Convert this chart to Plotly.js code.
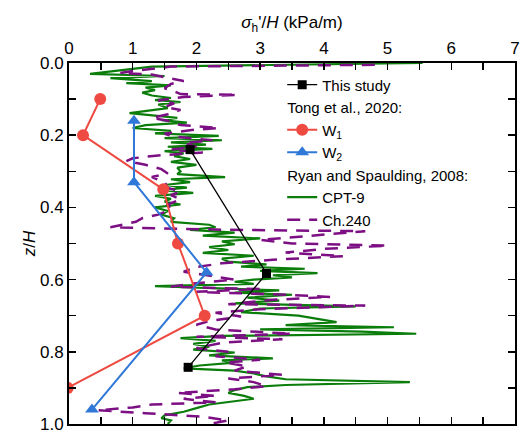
<!DOCTYPE html>
<html>
<head>
<meta charset="utf-8">
<script src="https://cdn.plot.ly/plotly-3.0.1.min.js"></script>
<style>html,body{margin:0;padding:0;background:#fff;}#chart{width:521px;height:434px;}</style>
</head>
<body>
<div id="chart"></div>
<script>
// This study
const thisX = [1.9, 3.1, 1.87];
const thisY = [0.24, 0.583, 0.843];
// Tong et al., 2020
const w1X = [0.49, 0.22, 1.48, 1.71, 2.13, -0.02];
const w1Y = [0.10, 0.20, 0.35, 0.50, 0.70, 0.90];
const w2X = [1.02, 1.02, 2.16, 0.36];
const w2Y = [0.16, 0.33, 0.58, 0.96];
// Ryan and Spaulding, 2008 - CPT-9
const cptY = [0.000,0.006,0.010,0.030,0.036,0.042,0.050,0.056,0.062,0.068,0.075,0.082,0.090,0.097,0.103,0.108,0.115,0.125,0.132,0.139,0.146,0.152,0.158,0.165,0.172,0.180,0.188,0.195,0.202,0.208,0.214,0.220,0.226,0.232,0.238,0.244,0.250,0.258,0.266,0.274,0.282,0.290,0.300,0.308,0.316,0.322,0.330,0.338,0.345,0.352,0.360,0.368,0.376,0.384,0.392,0.400,0.410,0.420,0.430,0.440,0.448,0.455,0.462,0.470,0.478,0.486,0.494,0.502,0.510,0.518,0.526,0.534,0.542,0.550,0.558,0.564,0.570,0.576,0.582,0.588,0.594,0.600,0.606,0.612,0.618,0.624,0.630,0.636,0.642,0.650,0.658,0.666,0.674,0.680,0.690,0.700,0.710,0.718,0.726,0.732,0.738,0.744,0.750,0.756,0.762,0.770,0.778,0.786,0.794,0.802,0.810,0.818,0.824,0.830,0.838,0.846,0.852,0.860,0.868,0.876,0.884,0.892,0.898,0.906,0.914,0.922,0.930,0.938,0.946,0.956,0.966,0.976,0.984,0.990,1.000];
const cptX = [5.55,2.5,1.3,0.33,1.5,0.65,1.3,0.9,1.6,1.2,1.35,1.15,1.3,1.6,1.35,1.75,1.4,1.55,1.2,0.95,1.35,1.7,1.45,1.85,1.2,1.0,1.6,1.35,2.35,1.5,2.4,1.6,2.15,1.55,2.25,1.5,1.8,1.65,1.9,1.6,2.0,1.7,1.75,1.7,2.45,1.6,1.9,1.5,1.85,1.45,1.95,1.35,1.6,1.5,1.75,1.35,1.55,1.45,1.65,1.6,2.2,2.3,1.9,2.6,2.1,3.0,2.4,2.6,2.2,2.5,2.1,2.9,2.4,2.5,3.1,2.7,3.7,3.0,3.9,3.2,3.5,2.9,2.6,2.9,1.35,2.5,3.3,2.6,3.5,2.8,3.3,2.6,4.5,3.0,2.7,3.6,3.9,4.2,3.4,5.1,3.0,4.6,5.45,2.4,1.75,2.3,1.95,2.2,1.95,2.6,2.2,3.2,2.4,2.6,2.05,1.8,2.6,2.9,3.1,3.4,5.35,3.4,2.8,2.6,2.5,2.75,2.9,2.5,2.2,2.0,1.8,1.5,1.45,1.6,1.55];
// Ryan and Spaulding, 2008 - Ch.240
const chY = [0.005,0.010,0.022,0.028,0.032,0.042,0.050,0.058,0.070,0.078,0.086,0.088,0.094,0.104,0.112,0.122,0.130,0.142,0.152,0.160,0.172,0.180,0.186,0.196,0.204,0.214,0.222,0.232,0.240,0.248,0.256,0.264,0.272,0.282,0.294,0.306,0.316,0.330,0.346,0.356,0.366,0.378,0.392,0.405,0.420,0.430,0.440,0.455,0.462,0.466,0.480,0.490,0.500,0.506,0.515,0.525,0.535,0.545,0.555,0.565,0.578,0.590,0.600,0.610,0.620,0.626,0.634,0.642,0.648,0.656,0.668,0.672,0.682,0.692,0.702,0.715,0.725,0.738,0.750,0.758,0.765,0.775,0.790,0.800,0.812,0.822,0.830,0.840,0.852,0.864,0.874,0.884,0.895,0.904,0.914,0.922,0.930,0.940,0.946,0.954,0.962,0.970,0.980,0.990,1.000];
const chX = [4.8,1.6,1.0,0.8,1.3,1.55,1.8,1.6,1.5,1.65,1.75,2.65,1.8,1.4,1.65,1.5,1.75,1.55,1.3,1.55,1.75,2.35,1.9,1.5,1.65,2.25,1.8,2.0,1.6,2.1,1.4,1.0,0.9,1.2,1.45,1.55,1.3,1.5,1.55,1.75,1.6,1.75,1.55,1.6,1.4,1.15,1.05,0.65,2.5,4.65,3.6,3.0,3.5,5.0,4.0,3.4,4.3,3.2,2.4,2.0,1.8,2.2,2.6,2.0,1.6,3.0,2.0,3.4,4.1,3.2,2.5,4.65,3.0,2.3,2.7,2.2,2.0,2.3,3.5,2.0,3.35,2.4,2.0,2.5,2.3,3.0,2.45,2.8,2.6,3.35,2.5,2.9,3.1,2.6,1.7,2.3,1.8,2.3,1.3,1.0,0.45,1.2,2.1,2.5,2.2];

const FONT = 'Arial, "Liberation Sans", sans-serif';
const LEGFONT = 15;
const traces = [
  {x: cptX, y: cptY, name: 'CPT-9', mode: 'lines', line: {color: '#0B7D0B', width: 2.2},
   legendgroup: 'ryan', legendgrouptitle: {text: 'Ryan and Spaulding, 2008:', font: {size: LEGFONT, color: '#000'}}, legendrank: 5},
  {x: chX, y: chY, name: 'Ch.240', mode: 'lines', line: {color: '#7D0F84', width: 2.5, dash: '13px,9px'},
   legendgroup: 'ryan', legendrank: 6},
  {x: w1X, y: w1Y, name: 'W<sub>1</sub>', mode: 'lines+markers', line: {color: '#EE4A41', width: 2},
   marker: {symbol: 'circle', size: 12, color: '#EE4A41'},
   legendgroup: 'tong', legendgrouptitle: {text: 'Tong et al., 2020:', font: {size: LEGFONT, color: '#000'}}, legendrank: 2},
  {x: w2X, y: w2Y, name: 'W<sub>2</sub>', mode: 'lines+markers', line: {color: '#2F78D8', width: 2},
   marker: {symbol: 'triangle-up', size: 12, color: '#2F78D8'},
   legendgroup: 'tong', legendrank: 3},
  {x: thisX, y: thisY, name: 'This study', mode: 'lines+markers', line: {color: '#000', width: 1.3},
   marker: {symbol: 'square', size: 9, color: '#000'},
   legendgroup: 'this', legendrank: 1}
];

const axisCommon = {
  showline: true, linecolor: '#000', linewidth: 2, mirror: 'allticks',
  ticks: 'inside', ticklen: 7, tickwidth: 1.5, tickcolor: '#000',
  showgrid: false, zeroline: false,
  tickfont: {family: FONT, size: 17, color: '#000'}
};

const layout = {
  width: 521, height: 434,
  margin: {l: 69, r: 6, t: 63, b: 10},
  paper_bgcolor: '#fff', plot_bgcolor: '#fff',
  font: {family: FONT, color: '#000'},
  showlegend: true,
  legend: {x: 0.478, y: 0.985, xanchor: 'left', yanchor: 'top', bgcolor: 'rgba(0,0,0,0)',
           font: {family: FONT, size: LEGFONT, color: '#000'}, traceorder: 'grouped', tracegroupgap: 0},
  xaxis: Object.assign({}, axisCommon, {
    side: 'top', range: [0, 7], dtick: 1, tick0: 0,
    minor: {dtick: 0.5, ticks: 'inside', ticklen: 7, tickwidth: 1.5, tickcolor: '#000', showgrid: false},
    title: {text: '<i>σ</i><sub>h</sub>\'/<i>H</i> (kPa/m)', font: {family: FONT, size: 17, color: '#000'}, standoff: 6}
  }),
  yaxis: Object.assign({}, axisCommon, {
    range: [1, 0], dtick: 0.2, tick0: 0, tickformat: '.1f',
    minor: {dtick: 0.1, ticks: 'inside', ticklen: 7, tickwidth: 1.5, tickcolor: '#000', showgrid: false},
    title: {text: '<i>z</i>/<i>H</i>', font: {family: FONT, size: 17, color: '#000'}, standoff: 0}
  })
};

Plotly.newPlot('chart', traces, layout, {staticPlot: true, displayModeBar: false});
</script>
</body>
</html>
